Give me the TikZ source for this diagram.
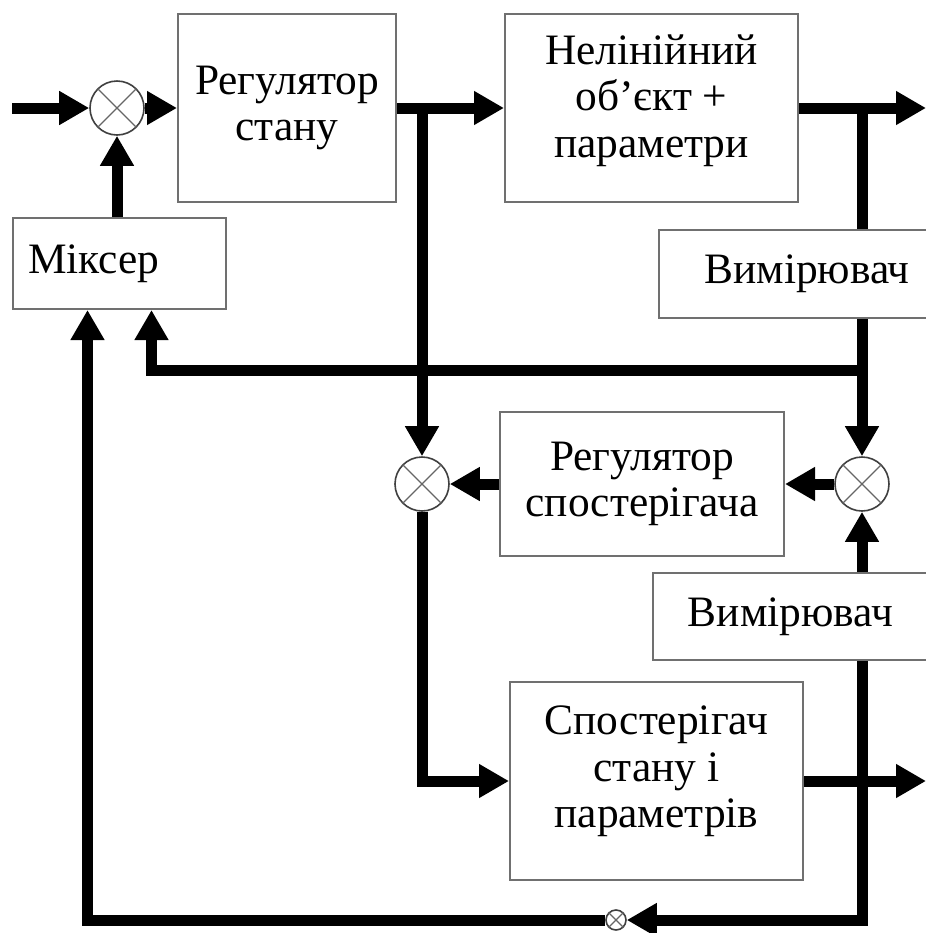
\documentclass[tikz,border=0pt]{standalone}
\usepackage{fontspec}
\setmainfont{Liberation Serif}
\usetikzlibrary{arrows.meta}
\definecolor{ramka}{RGB}{112,112,112}
\begin{document}
\begin{tikzpicture}[x=0.5pt,y=-0.5pt,>={Triangle[length=15pt,width=16pt]},
  font=\fontsize{21.7pt}{23.3pt}\selectfont,
  blok/.style={draw=ramka,line width=1pt,fill=white,inner sep=0pt,align=center},
  sum/.style={circle,draw=black!75,line width=0.8pt,fill=white,minimum size=27pt,inner sep=0pt},
  malsum/.style={sum,minimum size=10pt},
  krest/.style={draw=black!60,line width=0.6pt},
  lin/.style={line width=5.5pt}]
\useasboundingbox (0,0) rectangle (926,933);
\node[blok,minimum width=109pt,minimum height=94pt] (rs) at (287,108) {Регулятор\\стану};
\node[blok,minimum width=146.5pt,minimum height=94pt,text depth=12pt] (no) at (651.5,108) {Нелінійний\\об’єкт +\\параметри};
\node[blok,minimum height=45.5pt,text width=91.5pt,inner xsep=7.5pt,align=left] (mx) at (119.5,263.5) {Міксер};
\node[blok,minimum width=148pt,minimum height=44pt] (v1) at (807,274) {Вимірювач};
\node[blok,minimum width=142pt,minimum height=72pt] (rsp) at (642,484) {Регулятор\\спостерігача};
\node[blok,minimum width=137.5pt,minimum height=43.5pt] (v2) at (790.5,616.5) {Вимірювач};
\node[blok,minimum width=146.5pt,minimum height=99pt,text depth=14pt] (sp) at (656.5,781) {Спостерігач\\стану і\\параметрів};
\node[sum] (s1) at (117,108) {};
\node[sum] (s2) at (422,484) {};
\node[sum] (s3) at (862,484) {};
\node[malsum] (s4) at (616,920) {};
\foreach \s in {s1,s2,s3,s4}{\draw[krest] (\s.45) -- (\s.225) (\s.135) -- (\s.315);}
\coordinate (vh) at (12,108);
\coordinate (b1) at (422,108);
\coordinate (b2) at (862,108);
\coordinate (b3) at (862,370);
\coordinate (vyh1) at (926,108);
\coordinate (vyh2) at (926,781);
\draw[lin,->] (vh) -- (s1);
\draw[lin,->] (s1) -- (rs);
\draw[lin,->] (rs) -- (no);
\draw[lin,->] (mx.north -| s1) -- (s1);
\draw[lin,->] (no) -- (vyh1);
\draw[lin] (b2) -- (b2 |- v1.north);
\draw[lin,->] (b2 |- v1.south) -- (s3);
\draw[lin,->] (b3) -| ([xshift=16pt]mx.south);
\draw[lin,->] (b1) -- (s2);
\draw[lin,->] (s3) -- (rsp);
\draw[lin,->] (rsp) -- (s2);
\draw[lin,->] (s2) |- (sp);
\draw[lin,->] (sp) -- (vyh2);
\draw[lin,->] (s3 |- v2.north) -- (s3);
\draw[lin,->] (s3 |- v2.south) |- (s4);
\draw[lin,->] (s4) -| ([xshift=-16pt]mx.south);
\end{tikzpicture}
\end{document}
